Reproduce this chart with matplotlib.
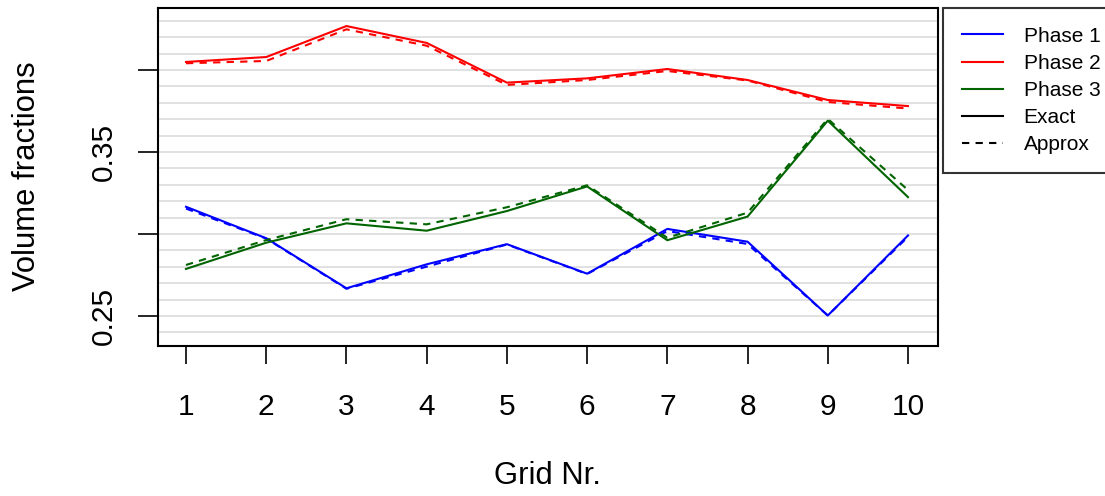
import numpy as np
import matplotlib
matplotlib.use("Agg")
import matplotlib.pyplot as plt
from matplotlib.ticker import MultipleLocator
from matplotlib.lines import Line2D

plt.rcParams['font.family'] = ['Liberation Sans', 'DejaVu Sans']

grid_nr = [1, 2, 3, 4, 5, 6, 7, 8, 9, 10]
phase1_exact = [0.3166, 0.2974, 0.2669, 0.2815, 0.2938, 0.2758, 0.3031, 0.2953, 0.2503, 0.2991]
phase1_approx = [0.3155, 0.2972, 0.2666, 0.2801, 0.2936, 0.2756, 0.3018, 0.2939, 0.2503, 0.2983]
phase2_exact = [0.4049, 0.4079, 0.4268, 0.4165, 0.3923, 0.3949, 0.4006, 0.3939, 0.3817, 0.3780]
phase2_approx = [0.4041, 0.4055, 0.4248, 0.4148, 0.3909, 0.3939, 0.3994, 0.3936, 0.3805, 0.3765]
phase3_exact = [0.2787, 0.2947, 0.3065, 0.3020, 0.3140, 0.3290, 0.2962, 0.3106, 0.3691, 0.3225]
phase3_approx = [0.2811, 0.2963, 0.3090, 0.3059, 0.3163, 0.3297, 0.2977, 0.3130, 0.3702, 0.3268]
y_ticks = [0.25, 0.30, 0.35, 0.40]
y_tick_labels = ["0.25", "", "0.35", ""]
legend_labels = ["Phase 1", "Phase 2", "Phase 3", "Exact", "Approx"]

colors = ['#0000FF', '#FF0000', '#006400']

W, H = 1105, 496
fig = plt.figure(figsize=(W/100, H/100), dpi=100)
ax = fig.add_axes([158/W, 1-346/H, (938-158)/W, (346-8)/H])

ax.set_xlim(0.651, 10.374)
ax.set_ylim(0.2317, 0.4378)

ax.yaxis.set_minor_locator(MultipleLocator(0.01))
ax.grid(which='both', axis='y', color='#D9D9D9', lw=1.1, zorder=0)
ax.set_axisbelow(True)

dash = (3.5, 3)
series = [(phase1_exact, phase1_approx), (phase2_exact, phase2_approx), (phase3_exact, phase3_approx)]
for (ex, ap), c in zip(series, colors):
    ax.plot(grid_nr, ex, color=c, lw=1.5, zorder=3)
    ax.plot(grid_nr, ap, color=c, lw=1.5, dashes=dash, zorder=3)

ax.set_xticks(grid_nr)
ax.set_xticklabels([str(g) for g in grid_nr], fontsize=21.5)
ax.set_yticks(y_ticks)
ax.set_yticklabels(y_tick_labels, fontsize=21.5)
for lab in ax.get_yticklabels():
    lab.set_rotation(90)
    lab.set_rotation_mode('anchor')
    lab.set_ha('center')
    lab.set_va('baseline')
ax.tick_params(axis='x', which='major', length=13, width=1.2, color='black', pad=20.5)
ax.tick_params(axis='y', which='major', length=14.4, width=1.2, color='black', pad=18.7)
ax.tick_params(which='minor', length=0)
for s in ax.spines.values():
    s.set_linewidth(1.5)

fig.text(547/W, 1-484/H, "Grid Nr.", fontsize=22.3, ha='center', va='baseline')
fig.text(35/W, 1-176/H, "Volume fractions", fontsize=22.3, ha='center', va='baseline',
         rotation=90, rotation_mode='anchor')

handles = [Line2D([], [], color=colors[0], lw=1.5),
           Line2D([], [], color=colors[1], lw=1.5),
           Line2D([], [], color=colors[2], lw=1.5),
           Line2D([], [], color='black', lw=1.5),
           Line2D([], [], color='black', lw=1.5, dashes=dash)]
leg = fig.legend(handles, legend_labels, loc='upper left',
                 bbox_to_anchor=(943/W, 1-8/H), bbox_transform=fig.transFigure,
                 fontsize=15, frameon=True, fancybox=False, edgecolor='black',
                 handlelength=1.97, handletextpad=1.0, borderpad=0.9,
                 labelspacing=0.39, borderaxespad=0)
leg.get_frame().set_linewidth(1.5)

fig.savefig("out.png", dpi=100)
